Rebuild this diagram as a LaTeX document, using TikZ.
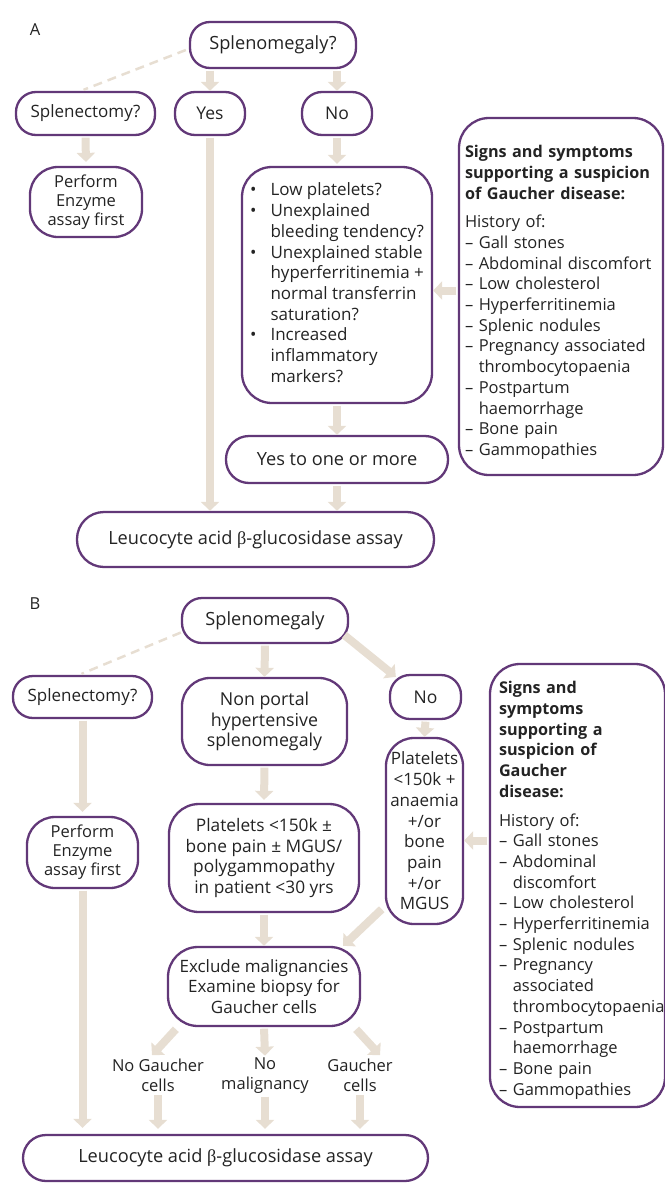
\documentclass[tikz,border=0pt]{standalone}
\usepackage{fontspec}
\setmainfont{Open Sans}
\newfontfamily\betafont{Liberation Serif}
\usetikzlibrary{arrows.meta,calc,positioning}

\definecolor{gpurple}{RGB}{98,56,120}
\definecolor{gbeige}{RGB}{231,222,210}
\definecolor{gtext}{RGB}{35,35,35}

\begin{document}
\begin{tikzpicture}[x=1pt,y=-1pt,
	every node/.style={text=gtext,font=\fontsize{17.5}{20.7}\selectfont},
	bigtext/.style={font=\fontsize{18.2}{20.7}\selectfont},
	smalltext/.style={font=\fontsize{16.5}{20.7}\selectfont},
	pill/.style={draw=gpurple,line width=2.3pt,rounded corners=20pt,inner sep=0pt,align=center},
	roundbox/.style={draw=gpurple,line width=2.3pt,rounded corners=28pt,inner sep=0pt,align=center},
	flow/.style={draw=gbeige,line width=8pt,-{Triangle[width=18pt,length=9pt]},shorten <=1.5pt},
	hint/.style={draw=gbeige,line width=2.5pt,dash pattern=on 9pt off 6pt}]
		\useasboundingbox (0,0) rectangle (664,1183);

		% panel A
		\node [smalltext] (labA) at (35,30) {A};
		\node [pill,bigtext,minimum width=166pt,minimum height=46pt] (splA) at (273,45) {Splenomegaly?};
		\node [pill,font=\fontsize{17}{20.7}\selectfont,minimum width=139pt,minimum height=43pt] (spyA) at (85.5,113.5) {Splenectomy?};
		\node [pill,minimum width=70pt,minimum height=43pt] (yesA) at (210,113.5) {Yes};
		\node [pill,minimum width=70pt,minimum height=43pt] (noA) at (337,113.5) {No};
		\node [roundbox,minimum width=112pt,minimum height=70pt,font=\fontsize{16.5}{19}\selectfont] (perfA) at (86,202) {Perform\\Enzyme\\assay first};
		\node [roundbox,minimum width=190pt,minimum height=236pt,rounded corners=30pt,font=\fontsize{17}{20.7}\selectfont] (bulA) at (337,285) {%
			\begin{tabular}{@{}l@{\hspace{14pt}}l@{}}
			\textbullet & Low platelets?\\
			\textbullet & Unexplained\\
			 & bleeding tendency?\\
			\textbullet & Unexplained stable\\
			 & hyperferritinemia +\\
			 & normal transferrin\\
			 & saturation?\\
			\textbullet & Increased\\
			 & inflammatory\\
			 & markers?
			\end{tabular}};
		\node [pill,bigtext,minimum width=222pt,minimum height=47pt,rounded corners=23pt] (ytoA) at (337,459.5) {Yes to one or more};
		\node [pill,bigtext,minimum width=357pt,minimum height=55pt,rounded corners=27pt] (leucA) at (255.5,539.5) {Leucocyte acid {\betafont β}-glucosidase assay};
		\node [roundbox,smalltext,align=left,text width=192pt,inner xsep=6pt,minimum height=357pt,rounded corners=30pt] (signA) at (561,296.5) {%
			{\bfseries\fontsize{16.2}{20.7}\selectfont\rule{0pt}{24pt}Signs and symptoms\\
			supporting a suspicion\\
			of Gaucher disease:}\\[8pt]
			History of:\\
			– Gall stones\\
			– Abdominal discomfort\\
			– Low cholesterol\\
			– Hyperferritinemia\\
			– Splenic nodules\\
			– Pregnancy associated\\
			\phantom{– }thrombocytopaenia\\
			– Postpartum\\
			\phantom{– }haemorrhage\\
			– Bone pain\\
			– Gammopathies};

		\draw [hint] ($(splA.west)+(-3,5)$) to ($(spyA.north)+(-2,-1)$);
		\draw [flow] (yesA |- splA.south) to (yesA.north);
		\draw [flow] (noA |- splA.south) to (noA.north);
		\draw [flow,shorten >=4pt] (spyA.south) to (perfA.north);
		\draw [flow,shorten >=2pt] (noA.south) to (bulA.north);
		\draw [flow] (yesA.south) to (yesA.south |- leucA.north);
		\draw [flow] (bulA.south) to (ytoA.north);
		\draw [flow] (ytoA.south) to (ytoA.south |- leucA.north);
		\coordinate (sA) at ($(signA.west)+(0,-6)$);
		\draw [flow] (sA) to (sA -| bulA.east);

		% panel B
		\node [smalltext] (labB) at (35,604) {B};
		\node [pill,bigtext,minimum width=166pt,minimum height=45pt] (splB) at (265,620.5) {Splenomegaly};
		\node [pill,font=\fontsize{17}{20.7}\selectfont,minimum width=139pt,minimum height=42pt] (spyB) at (82.5,697) {Splenectomy?};
		\node [roundbox,font=\fontsize{17.8}{20.7}\selectfont,minimum width=165pt,minimum height=87pt] (npB) at (264.5,721.5) {Non portal\\hypertensive\\splenomegaly};
		\node [pill,minimum width=71pt,minimum height=44pt] (noB) at (425.5,697) {No};
		\node [roundbox,font=\fontsize{17}{20.7}\selectfont,minimum width=77pt,minimum height=186pt] (platR) at (424.5,831) {Platelets\\<150k +\\anaemia\\+/or\\bone\\pain\\+/or\\MGUS};
		\node [roundbox,font=\fontsize{17.3}{20.7}\selectfont,minimum width=190pt,minimum height=108pt,rounded corners=30pt] (platC) at (264,858) {Platelets <150k ±\\bone pain ± MGUS/\\polygammopathy\\in patient <30 yrs};
		\node [roundbox,minimum width=111pt,minimum height=71pt,font=\fontsize{16.5}{19}\selectfont] (perfB) at (82.5,852.5) {Perform\\Enzyme\\assay first};
		\node [roundbox,font=\fontsize{17}{20.7}\selectfont,minimum width=192pt,minimum height=79pt,rounded corners=30pt] (excl) at (264,986.5) {Exclude malignancies\\Examine biopsy for\\Gaucher cells};
		\node [align=center,inner sep=2pt,font=\fontsize{16.5}{19.5}\selectfont] (noG) at (158,1075.5) {No Gaucher\\cells};
		\node [align=center,inner sep=2pt,font=\fontsize{16.5}{19.5}\selectfont] (nm) at (265,1075.5) {No\\malignancy};
		\node [align=center,inner sep=2pt,font=\fontsize{16.5}{19.5}\selectfont] (gc) at (360,1075.5) {Gaucher\\cells};
		\node [pill,bigtext,minimum width=405pt,minimum height=46pt,rounded corners=23pt] (leucB) at (225.5,1158) {Leucocyte acid {\betafont β}-glucosidase assay};
		\node [roundbox,smalltext,align=left,text width=157pt,inner xsep=9pt,minimum height=443pt,rounded corners=30pt] (signB) at (577.5,885.5) {%
			{\bfseries\fontsize{16.2}{20.8}\selectfont\rule{0pt}{21.5pt}Signs and\\
			symptoms\\
			supporting a\\
			suspicion of\\
			Gaucher\\
			disease:}\\[8pt]
			History of:\\
			– Gall stones\\
			– Abdominal\\
			\phantom{– }discomfort\\
			– Low cholesterol\\
			– Hyperferritinemia\\
			– Splenic nodules\\
			– Pregnancy\\
			\phantom{– }associated\\
			\phantom{– }thrombocytopaenia\\
			– Postpartum\\
			\phantom{– }haemorrhage\\
			– Bone pain\\
			– Gammopathies};

		\draw [hint] ($(splB.west)+(0,12)$) to ($(spyB.north)+(-1,-1)$);
		\draw [flow] (splB.south) to (npB.north);
		\draw [flow] ($(splB.south east)+(-6,-10)$) to ($(noB.north west)+(7,3)$);
		\draw [flow] (noB.south) to (platR.north);
		\draw [flow,shorten >=3pt] (npB.south) to (platC.north);
		\draw [flow] (platC.south) to (excl.north);
		\draw [flow] ($(platR.south west)+(-2,-17)$) to ($(excl.north east)+(-18,0)$);
		\coordinate (sB) at ($(signB.west)+(0,-45)$);
		\draw [flow] (sB) to (sB -| platR.east);
		\draw [flow,shorten >=4pt] (spyB.south) to (perfB.north);
		\draw [flow,shorten >=6pt] (perfB.south) to (perfB.south |- leucB.north);
		\draw [flow] ($(excl.south west)+(10,1)$) to ($(noG.north)+(-6,-2)$);
		\draw [flow] (excl.south) to (nm.north);
		\draw [flow] ($(excl.south east)+(-6,1)$) to ($(gc.north)+(20,-2)$);
		\draw [flow,shorten >=5pt] (noG.south) to (noG.south |- leucB.north);
		\draw [flow,shorten >=5pt] (nm.south) to (nm.south |- leucB.north);
		\draw [flow,shorten >=5pt] (gc.south) to (gc.south |- leucB.north);
\end{tikzpicture}
\end{document}
